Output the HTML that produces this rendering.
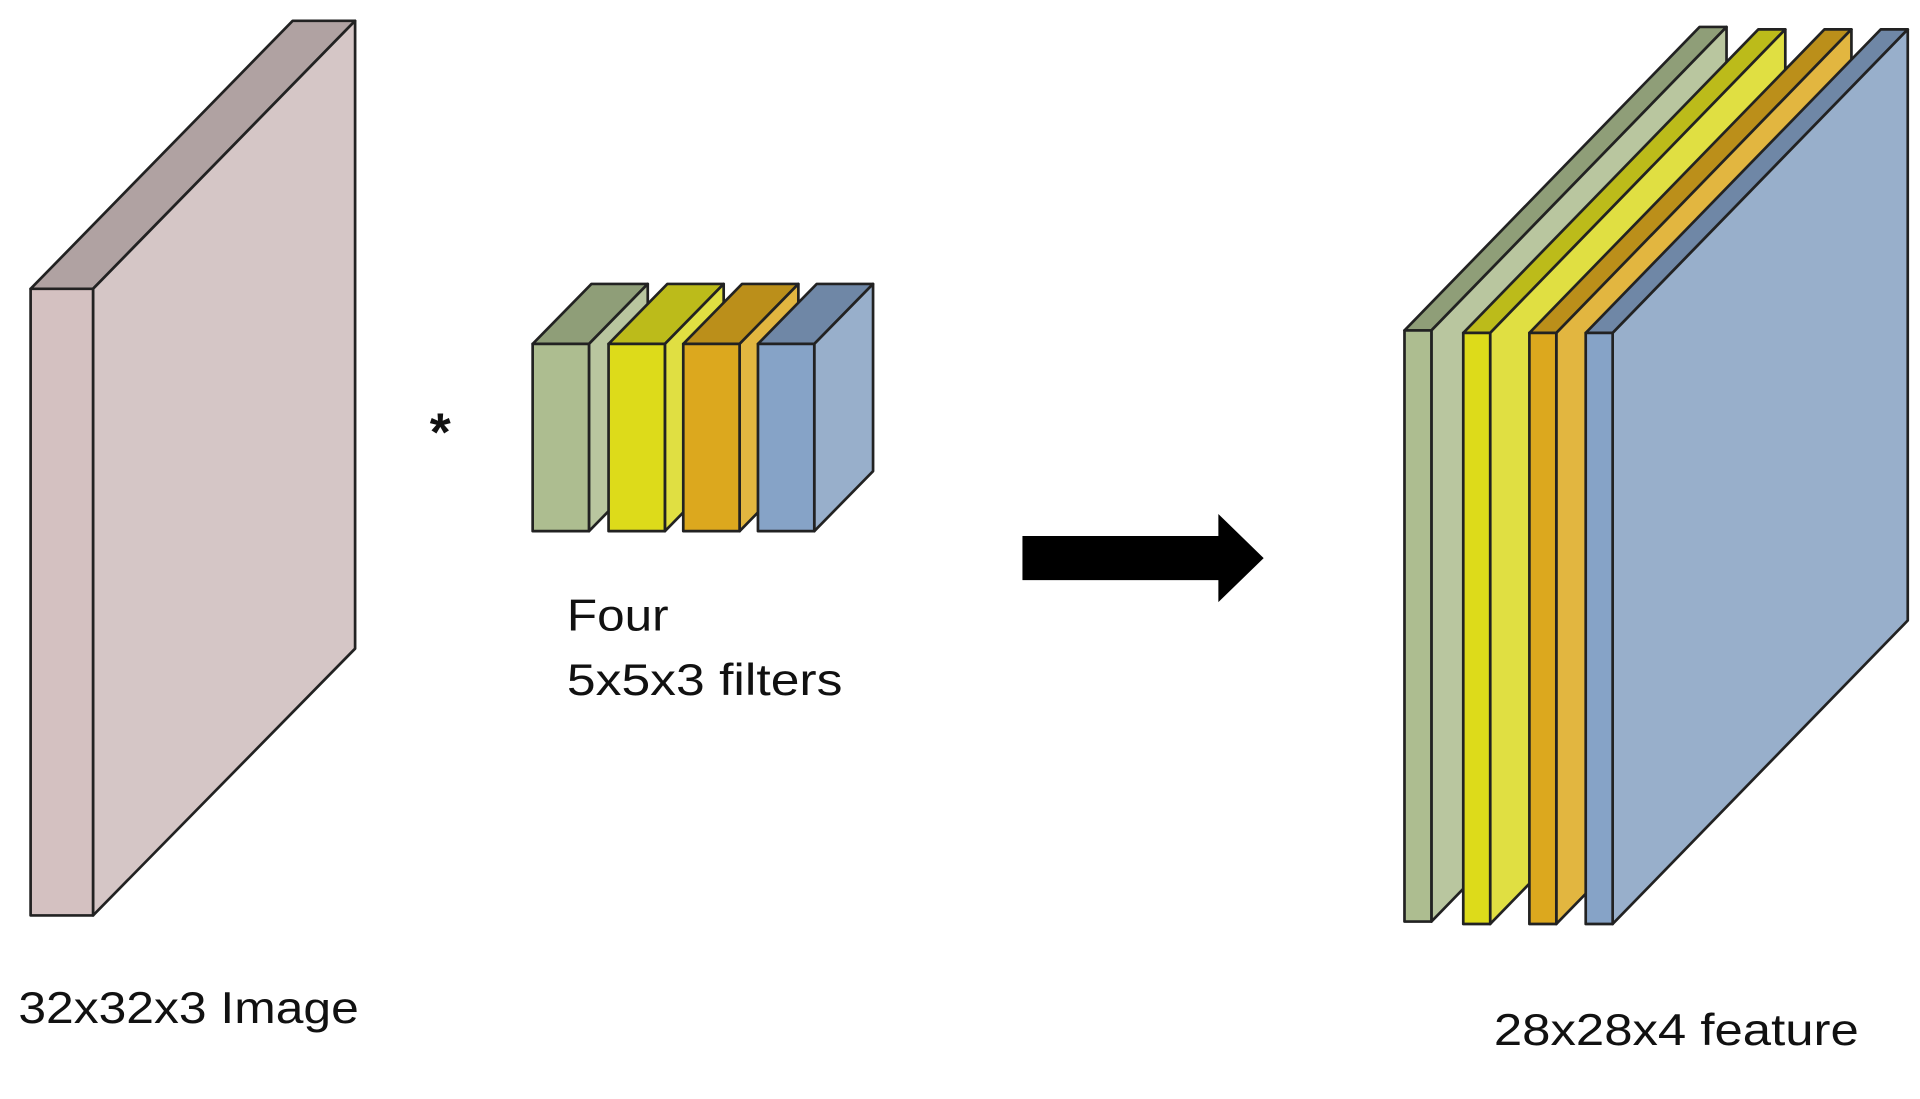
<!DOCTYPE html>
<html><head><meta charset="utf-8"><style>
html,body{margin:0;padding:0;background:#fff;width:1920px;height:1099px;overflow:hidden}
svg{display:block}
text{font-family:"Liberation Sans",sans-serif;fill:#111}
</style></head><body>
<svg width="1920" height="1099" viewBox="0 0 1568 898" preserveAspectRatio="none" xmlns="http://www.w3.org/2000/svg">
<g stroke="#222" stroke-width="2.2" stroke-linejoin="round">
<!-- left image slab -->
<polygon points="25,236 76,236 290,17 239,17" fill="#b0a2a2"/>
<polygon points="76,236 290,17 290,530 76,748" fill="#d5c6c6"/>
<rect x="25" y="236" width="51" height="512" fill="#d4c1c1"/>
<!-- filters -->
<polygon points="435,281 481,281 529,232 483,232" fill="#8f9e78"/>
<polygon points="481,281 529,232 529,385 481,434" fill="#b9c69f"/>
<rect x="435" y="281" width="46" height="153" fill="#adbd90"/>
<polygon points="497,281 543,281 591,232 545,232" fill="#bcbb1a"/>
<polygon points="543,281 591,232 591,385 543,434" fill="#e0df42"/>
<rect x="497" y="281" width="46" height="153" fill="#dddb1a"/>
<polygon points="558,281 604,281 652,232 606,232" fill="#bb8f1a"/>
<polygon points="604,281 652,232 652,385 604,434" fill="#e2b640"/>
<rect x="558" y="281" width="46" height="153" fill="#dca81e"/>
<polygon points="619,281 665,281 713,232 667,232" fill="#6f87a6"/>
<polygon points="665,281 713,232 713,385 665,434" fill="#98afcb"/>
<rect x="619" y="281" width="46" height="153" fill="#86a3c7"/>
<!-- feature stack -->
<polygon points="1147,270 1169,270 1410,22 1388,22" fill="#8f9e78"/>
<polygon points="1169,270 1410,22 1410,505 1169,753" fill="#b9c69f"/>
<rect x="1147" y="270" width="22" height="483" fill="#adbd90"/>
<polygon points="1195,272 1217,272 1458,24 1436,24" fill="#bcbb1a"/>
<polygon points="1217,272 1458,24 1458,507 1217,755" fill="#e0df42"/>
<rect x="1195" y="272" width="22" height="483" fill="#dddb1a"/>
<polygon points="1249,272 1271,272 1512,24 1490,24" fill="#bb8f1a"/>
<polygon points="1271,272 1512,24 1512,507 1271,755" fill="#e2b640"/>
<rect x="1249" y="272" width="22" height="483" fill="#dca81e"/>
<polygon points="1295,272 1317,272 1558,24 1536,24" fill="#6f87a6"/>
<polygon points="1317,272 1558,24 1558,507 1317,755" fill="#98afcb"/>
<rect x="1295" y="272" width="22" height="483" fill="#86a3c7"/>
</g>
<!-- arrow -->
<polygon points="835,438 995,438 995,420 1032,456 995,492 995,474 835,474" fill="#000"/>
<text x="351" y="368" font-size="44" font-weight="bold">*</text>
<text x="463" y="515" font-size="36" textLength="83" lengthAdjust="spacingAndGlyphs">Four</text>
<text x="463" y="568" font-size="36" textLength="225" lengthAdjust="spacingAndGlyphs">5x5x3 filters</text>
<text x="15" y="836" font-size="36" textLength="278" lengthAdjust="spacingAndGlyphs">32x32x3 Image</text>
<text x="1220" y="854" font-size="36" textLength="298" lengthAdjust="spacingAndGlyphs">28x28x4 feature</text>
</svg>
</body></html>
